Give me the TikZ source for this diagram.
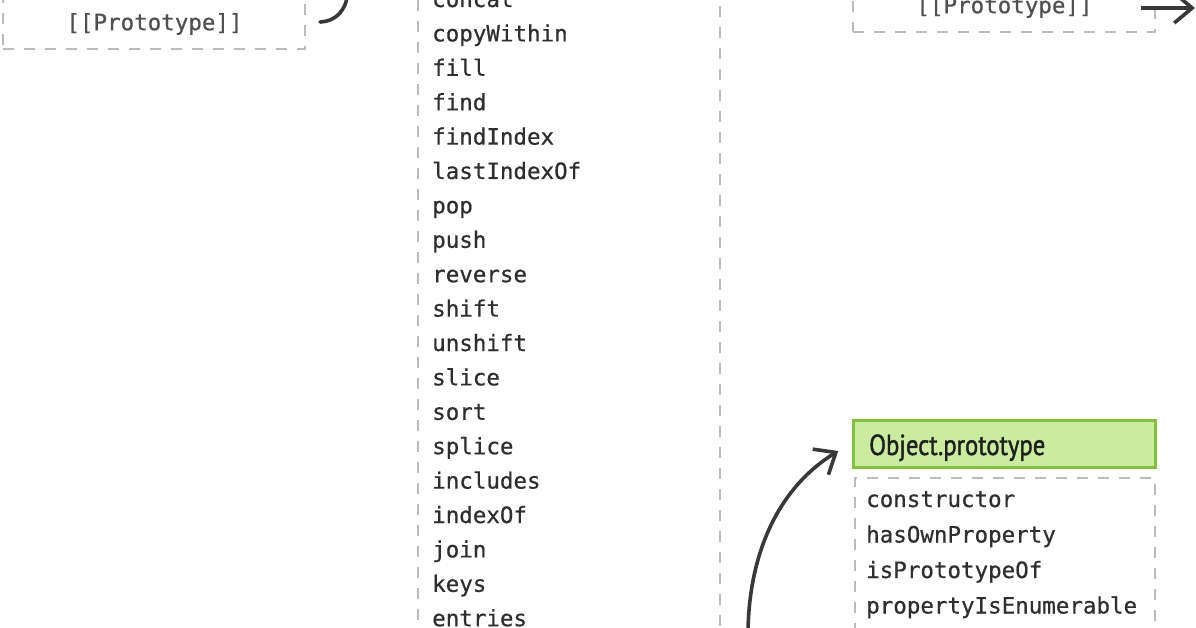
\documentclass[tikz,border=0pt]{standalone}
\usepackage{fontspec}
\setmonofont[FakeBold=0.6]{DejaVu Sans Mono}
\newfontfamily\titlefont[FakeStretch=0.85,FakeBold=1.4]{PT Sans}
\usetikzlibrary{arrows.meta}
\definecolor{dashgrey}{HTML}{BBBBBB}
\definecolor{txtgrey}{HTML}{2E2E2E}
\definecolor{protogrey}{HTML}{505050}
\definecolor{greenfill}{HTML}{C9EC9F}
\definecolor{greenline}{HTML}{80C23C}
\definecolor{arrowgrey}{HTML}{383838}
\tikzset{
  dbox/.style={draw=dashgrey, line width=2pt, dash pattern=on 11pt off 10pt, inner sep=0pt},
  item/.style={anchor=base west, inner sep=0pt, text=txtgrey, font=\ttfamily\fontsize{22.5}{27}\selectfont},
  proto/.style={inner sep=0pt, text=protogrey, font=\ttfamily\fontsize{22.5}{27}\selectfont},
  titlebox/.style={draw=greenline, fill=greenfill, line width=2.5pt, inner sep=0pt},
  titletext/.style={anchor=base west, inner sep=0pt, text=black!88, font=\titlefont\fontsize{29}{33}\selectfont},
  conn/.style={draw=arrowgrey, line width=3.6pt, -{Straight Barb[length=18pt,width=30pt]}},
  curveline/.style={draw=arrowgrey, line width=3.6pt}
}
\begin{document}
\begin{tikzpicture}[x=1pt,y=-1pt]
\useasboundingbox (0,0) rectangle (1196,628);
% top-left box
\node[dbox, minimum width=302pt, minimum height=52pt] (lbox) at (154,23) {};
\node[proto] (ltxt) at (154.5,24) {[[Prototype]]};
\coordinate (lc1) at (320,22);
\coordinate (lc2) at (348,-8);
\draw[curveline, line cap=round] (lc1) .. controls (337,21) and (346,10) .. (lc2);
% middle list box
\node[dbox, minimum width=302pt, minimum height=700pt] (abox) at (569,310) {};
\foreach \t [count=\i] in {concat,copyWithin,fill,find,findIndex,lastIndexOf,pop,push,reverse,shift,unshift,slice,sort,splice,includes,indexOf,join,keys,entries}
  \node[item] (m\i) at (432,{7+(\i-1)*34.4}) {\t};
% top-right box
\node[dbox, minimum width=302pt, minimum height=60pt] (rbox) at (1004,2) {};
\node[proto] (rtxt) at (1004.5,7) {[[Prototype]]};
\coordinate (ra) at (1141,8);
\coordinate (rb) at (1195,8);
\draw[conn] (ra) -- (rb);
% Object.prototype
\node[titlebox, minimum width=302pt, minimum height=47pt] (op) at (1004.5,444) {};
\node[titletext] (optxt) at (869,455) {Object.prototype};
\node[dbox, minimum width=300pt, minimum height=200pt] (obox) at (1005,578) {};
\node[item] (o1) at (866,507) {constructor};
\node[item] (o2) at (866,542.5) {hasOwnProperty};
\node[item] (o3) at (866,578) {isPrototypeOf};
\node[item] (o4) at (866,613.5) {propertyIsEnumerable};
% curved arrow
\coordinate (cs) at (748,640);
\draw[conn] (cs) .. controls (747,560) and (775,490) .. ([shift={(-14,7)}]op.west);
\end{tikzpicture}
\end{document}
